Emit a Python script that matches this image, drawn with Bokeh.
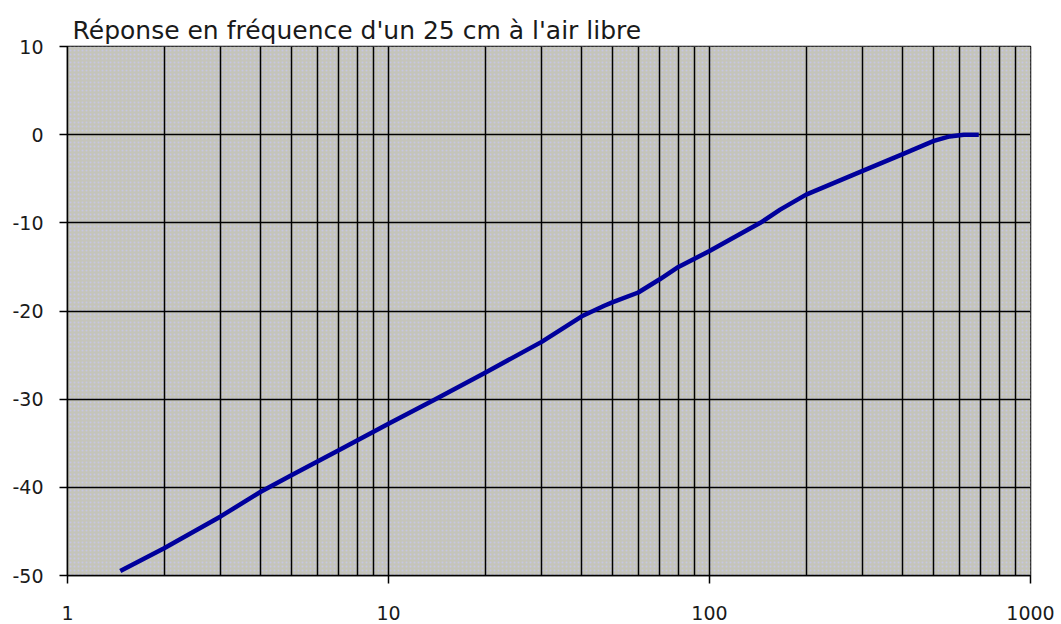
from bokeh.plotting import figure
from bokeh.models import FixedTicker, Range1d, BoxAnnotation
from bokeh.embed import file_html
from bokeh.resources import INLINE

# Data (frequency in Hz, level in dB)
freq = [1.46, 2, 3, 4, 5, 7, 10, 14, 20, 30, 40, 47, 50, 60, 70, 80, 100,
        144, 166, 200, 300, 400, 500, 560, 620, 690]
level = [-49.5, -46.9, -43.3, -40.5, -38.6, -35.8, -32.8, -30.0, -27.0, -23.5, -20.6,
         -19.4, -19.0, -17.9, -16.4, -15.0, -13.2, -10.0, -8.5, -6.8, -4.1, -2.2, -0.7,
         -0.2, 0.0, 0.0]

x_major = [1, 10, 100, 1000]
x_minor = [m * d for d in (1, 10, 100) for m in range(2, 10)]
y_ticks = [-50, -40, -30, -20, -10, 0, 10]
title_text = "Réponse en fréquence d'un 25 cm à l'air libre"

FONT = "DejaVu Sans"

p = figure(width=1056, height=622, x_axis_type="log",
           x_range=Range1d(1, 1000), y_range=Range1d(-50, 10),
           output_backend="svg", toolbar_location=None,
           min_border_left=67, min_border_top=46, min_border_right=26, min_border_bottom=47)

p.title.text = title_text
p.title.text_font = FONT
p.title.text_font_size = "25px"
p.title.text_font_style = "normal"
p.title.text_color = "#1a1a1a"
p.title.offset = 5
p.title.standoff = 4

p.background_fill_color = "#c4c4bc"
p.border_fill_color = "white"
p.outline_line_color = "black"
p.outline_line_width = 1.5

# dithered texture of the plot area
p.add_layout(BoxAnnotation(level="image", fill_color="#c4c4ba", fill_alpha=1,
                           line_color=None, hatch_pattern="dot",
                           hatch_color="#c8c8ff", hatch_scale=4, hatch_weight=1,
                           hatch_alpha=0.6))

p.xaxis.ticker = FixedTicker(ticks=x_major, minor_ticks=x_minor)
p.yaxis.ticker = FixedTicker(ticks=y_ticks)
p.xaxis.major_label_overrides = {v: str(v) for v in x_major}
p.yaxis.major_label_overrides = {v: str(v) for v in y_ticks}

for ax in (p.xaxis[0], p.yaxis[0]):
    ax.axis_line_color = "black"
    ax.axis_line_width = 1.5
    ax.major_tick_line_color = "black"
    ax.major_tick_line_width = 1.5
    ax.major_tick_out = 8
    ax.major_tick_in = 0
    ax.minor_tick_line_color = None
    ax.major_label_text_font = FONT
    ax.major_label_text_font_size = "19px"
    ax.major_label_text_color = "#1a1a1a"

p.yaxis.major_label_standoff = 16
p.xaxis.major_label_standoff = 22

p.xgrid.grid_line_color = "black"
p.xgrid.grid_line_width = 1.5
p.xgrid.grid_line_alpha = 1
p.xgrid.minor_grid_line_color = "black"
p.xgrid.minor_grid_line_width = 1.5
p.ygrid.grid_line_color = "black"
p.ygrid.grid_line_width = 1.5
p.ygrid.grid_line_alpha = 1

p.line(freq, level, line_color="#00009c", line_width=4.5, line_join="round")

open("out.html", "w").write(file_html(p, INLINE))
